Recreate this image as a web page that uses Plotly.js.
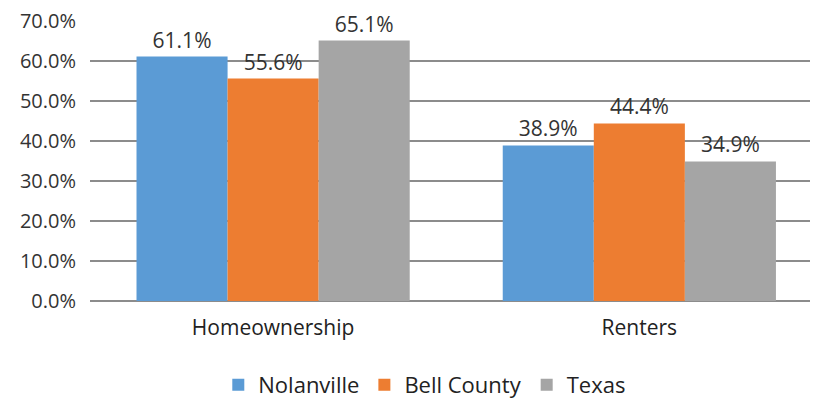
<!DOCTYPE html>
<html><head><meta charset="utf-8">
<script src="https://cdn.plot.ly/plotly-3.0.1.min.js"></script>
<style>html,body{margin:0;padding:0;background:#fff}</style>
</head><body>
<div id="chart" style="width:814px;height:402px"></div>
<script>
const categories = ["Homeownership", "Renters"];
const seriesNames = ["Nolanville", "Bell County", "Texas"];
const nolanville = [61.1, 38.9];
const bellCounty = [55.6, 44.4];
const texas = [65.1, 34.9];
const colors = ["#5B9BD5", "#ED7D31", "#A5A5A5"];
const yTicks = [0, 10, 20, 30, 40, 50, 60, 70];

const allValues = [nolanville, bellCounty, texas];
const traces = allValues.map((vals, i) => ({
  type: "bar",
  name: seriesNames[i],
  x: categories,
  y: vals,
  marker: {color: colors[i]},
  text: vals.map(v => v.toFixed(1) + "%"),
  textposition: "outside",
  cliponaxis: false,
  textfont: {family: "Open Sans, sans-serif", size: 21, color: "#333"},
  hoverinfo: "none"
}));

const layout = {
  width: 814, height: 402,
  margin: {l: 90, r: 4, t: 21, b: 101, autoexpand: false},
  barmode: "group",
  bargap: 0.254,
  bargroupgap: 0,
  paper_bgcolor: "#fff",
  plot_bgcolor: "#fff",
  font: {family: "Open Sans, sans-serif", size: 20, color: "#333"},
  xaxis: {
    range: [-0.5, 1.466],
    automargin: false,
    showgrid: false,
    zeroline: false,
    showline: false,
    ticks: "",
    ticklabelstandoff: 12,
    tickfont: {size: 21, color: "#222"}
  },
  yaxis: {
    range: [0, 70],
    automargin: false,
    tickvals: yTicks,
    ticktext: yTicks.map(v => v.toFixed(1) + "%"),
    showgrid: true,
    gridcolor: "#8c8c8c",
    gridwidth: 1.5,
    zeroline: true,
    zerolinecolor: "#8c8c8c",
    zerolinewidth: 1.5,
    showline: false,
    ticks: "",
    ticklabelstandoff: 13,
    tickfont: {size: 20, color: "#333"}
  },
  showlegend: true,
  legend: {
    orientation: "h",
    x: 0.465, xanchor: "center",
    y: -0.30, yanchor: "middle",
    font: {size: 22, color: "#222"},
    itemwidth: 20,
    traceorder: "normal"
  }
};

Plotly.newPlot("chart", traces, layout, {displayModeBar: false, staticPlot: true});
</script>
</body></html>
